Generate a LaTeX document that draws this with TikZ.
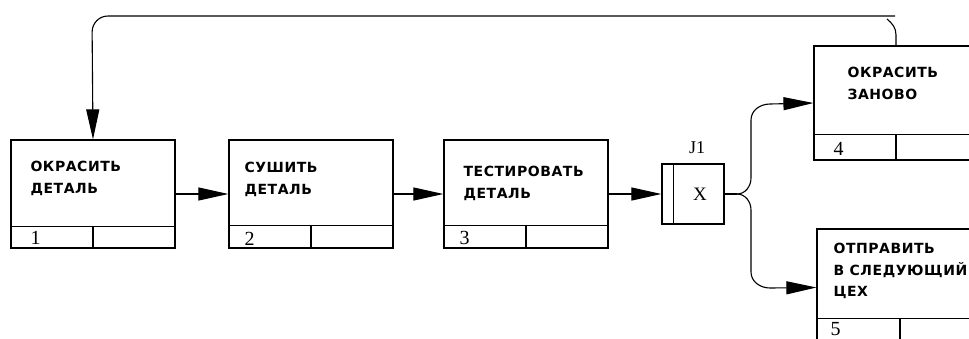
\documentclass[tikz,border=0pt]{standalone}
\usepackage{fontspec}
\setmainfont{Liberation Serif}
\newfontfamily\lblfont[LetterSpace=4]{DejaVu Sans Bold}
\usetikzlibrary{arrows.meta,calc}
\begin{document}
\begin{tikzpicture}[x=1pt,y=-1pt,
  line width=1.1pt,
  box/.style={draw,rectangle,inner sep=0pt,line width=1.2pt},
  lbl/.style={anchor=north west,inner sep=0pt,align=left,
    font=\lblfont\fontsize{14}{21.5}\selectfont},
  num/.style={anchor=base west,inner sep=0pt,font=\fontsize{20}{20}\selectfont},
  arr/.style={-{Triangle[length=30pt,width=13pt]}},
  ]
\useasboundingbox (0,0) rectangle (969,338);
\clip (0,0) rectangle (969,338);
\fill[white] (0,0) rectangle (969,338);
% boxes
\node[box,minimum width=164pt,minimum height=108pt] (b1) at (93,194) {};
\node[box,minimum width=164pt,minimum height=108pt] (b2) at (311,194) {};
\node[box,minimum width=164pt,minimum height=108pt] (b3) at (526,194) {};
\node[box,minimum width=164pt,minimum height=114pt] (b4) at (896,103) {};
\node[box,minimum width=166pt,minimum height=117pt] (b5) at (900,287.5) {};
% dividers
\foreach \b/\h in {b1/22,b2/23,b3/23,b4/26,b5/28}{
  \draw[line width=1.2pt] ($(\b.south west)+(0,-\h)$) -- ($(\b.south east)+(0,-\h)$);
  \draw[line width=1.2pt] (\b.south) -- ($(\b.south)+(0,-\h)$);
}
% texts
\node[lbl] (t1) at (30,161) {ОКРАСИТЬ\\ДЕТАЛЬ};
\node[lbl] (t2) at (244,162) {СУШИТЬ\\ДЕТАЛЬ};
\node[lbl] (t3) at (463,166) {ТЕСТИРОВАТЬ\\ДЕТАЛЬ};
\node[lbl] (t4) at (847,67) {ОКРАСИТЬ\\ЗАНОВО};
\node[lbl] (t5) at (833,243) {ОТПРАВИТЬ\\В СЛЕДУЮЩИЙ\\ЦЕХ};
\node[num] (n1) at (30,244) {1};
\node[num] (n2) at (244,245) {2};
\node[num] (n3) at (459,244) {3};
\node[num] (n4) at (833,155) {4};
\node[num] (n5) at (830,335) {5};
% junction
\node[box,minimum width=62pt,minimum height=60pt] (j1) at (693,194) {};
\draw[line width=1.2pt] ($(j1.north west)+(12,0)$) -- ($(j1.south west)+(12,0)$);
\node[inner sep=0pt,font=\fontsize{19}{19}\selectfont] (jx) at (700,194) {X};
\node[inner sep=0pt,anchor=base,font=\fontsize{18}{18}\selectfont] (jl) at (697,153) {J1};
% main arrows
\draw[arr] (b1.east) -- (b2.west);
\draw[arr] (b2.east) -- (b3.west);
\draw[arr] (b3.east) -- (j1.west);
% branches
\coordinate (jb) at (737,194);
\coordinate (in4) at (b4.west);
\coordinate (in5) at (b5.west);
\draw (j1.east) -- (jb);
\draw[arr] (jb) to[out=0,in=-90] (751,178) -- (751,120)
  to[out=90,in=180] (770,104) -- (in4);
\draw[arr] (jb) to[out=0,in=90] (751,210) -- (751,272)
  to[out=-90,in=180] (770,288) -- (in5);
% feedback
\coordinate (fb) at (895,16);
\draw[arr,rounded corners=16pt] (fb) -- (92,16) -- (b1.north);
\draw (b4.north) -- (896,35) to[out=90,in=-40] (887,19);
\end{tikzpicture}
\end{document}
